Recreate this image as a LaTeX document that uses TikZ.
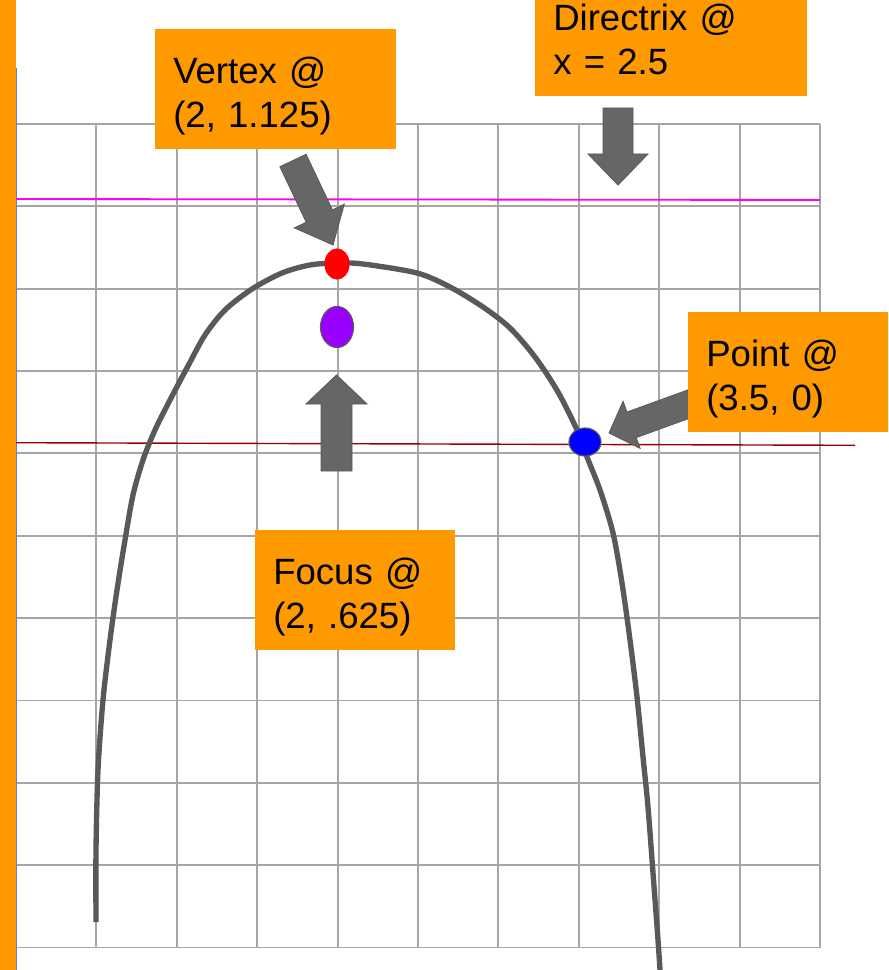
\documentclass[tikz,border=0pt]{standalone}
\usepackage{fontspec}
\setmainfont{Liberation Sans}
\usepackage{xcolor}
\usetikzlibrary{shapes.geometric,calc}

\definecolor{boxorange}{HTML}{FF9900}
\definecolor{gridgray}{HTML}{A6A6A6}
\definecolor{curvegray}{HTML}{595959}
\definecolor{arrowgray}{HTML}{666666}
\definecolor{focuspurple}{HTML}{9900FF}
\definecolor{dirmagenta}{HTML}{FF00FF}
\definecolor{axisred}{HTML}{990000}
\definecolor{edgeblue}{HTML}{4A86E8}

% block arrow: tail, tip, half shaft, half head, head length
\newcommand{\blockarrow}[5]{%
  \coordinate (#2-base) at ($(#2)!#5!(#1)$);
  \draw[blockarr] ($(#1)!#3!90:(#2)$) -- ($(#2-base)!#3!90:(#2)$)
    -- ($(#2-base)!#4!90:(#2)$) -- (#2) -- ($(#2-base)!#4!-90:(#2)$)
    -- ($(#2-base)!#3!-90:(#2)$) -- ($(#1)!#3!-90:(#2)$) -- cycle;
}

\begin{document}
\begin{tikzpicture}[x=0.025cm, y=-0.025cm,
        gridline/.style={draw=gridgray, line width=1.3pt},
        notebox/.style={rectangle, fill=boxorange, anchor=north west, minimum height=3cm,
            inner xsep=0.45cm, inner ysep=0pt, text height=1.35cm, text depth=1.65cm,
            align=left, font=\fontsize{26}{31.3}\selectfont},
        ptdot/.style={ellipse, draw=curvegray, line width=0.8pt, inner sep=0pt},
        blockarr/.style={fill=arrowgray, draw=curvegray, line width=0.6pt}
    ]
        \useasboundingbox (0,0) rectangle (888,970);
        \clip (0,0) rectangle (888,970);

        % Grid
        \foreach \i in {0,...,10} {
            \draw[gridline] ({16+80.4*\i},124) -- ({16+80.4*\i},947.5);
            \draw[gridline] (16,{124+82.35*\i}) -- (820,{124+82.35*\i});
        }

        % Left edge
        \fill[boxorange] (0,0) rectangle (16,970);
        \draw[edgeblue, line width=0.8pt] (16.5,68) -- (16.5,970);

        % Directrix and axis lines
        \draw[dirmagenta, line width=1.3pt] (16,199) -- (820,200);
        \draw[axisred, line width=1pt] (16,442.7) -- (855,445.3);

        % Parabola
        \draw[curvegray, line width=3.8pt] plot[smooth] coordinates {
            (96,922) (96,850) (98,770) (103,700) (110,640) (117,590) (125,540)
            (133,495) (143,460) (155,430) (170,400) (188,366) (205,335) (225,310)
            (252,289) (282,273) (310,265) (337,263) (363,264) (417,273) (450,287)
            (483,307) (510,328) (535,357) (558,392) (577,430) (587,457) (600,490)
            (613,533) (622,583) (630,640) (637,697) (643,757) (648,807) (653,873)
            (658,940) (660,970)};

        % Points
        \node[ptdot, fill=red, draw=red, minimum width=0.6cm, minimum height=0.75cm] (vertex) at (337,264) {};
        \node[ptdot, fill=focuspurple, minimum width=0.825cm, minimum height=1.025cm] (focus) at (337,327) {};
        \node[ptdot, fill=blue, minimum width=0.8cm, minimum height=0.7cm] (point) at (585,442) {};

        % Arrows
        \coordinate (dtail) at (618,108);
        \coordinate (dtip) at (618,185);
        \coordinate (vtail) at (293,160.5);
        \coordinate (vtip) at (333,245);
        \coordinate (ftail) at (336.5,471);
        \coordinate (ftip) at (336.5,375);
        \coordinate (ptail) at (700,400);
        \coordinate (ptip) at (609,433);
        \blockarrow{dtail}{dtip}{0.375cm}{0.75cm}{0.775cm}
        \blockarrow{vtail}{vtip}{0.3625cm}{0.69cm}{0.8cm}
        \blockarrow{ftail}{ftip}{0.3875cm}{0.7625cm}{0.725cm}
        \blockarrow{ptail}{ptip}{0.34cm}{0.625cm}{0.6cm}

        % Labels
        \node[notebox, text width=5.9cm] (directrix) at (535,-24) {Directrix @\\x = 2.5};
        \node[notebox, text width=5.125cm] (vertexlbl) at (155,29) {Vertex @\\(2, 1.125)};
        \node[notebox, text width=4.1cm] (focuslbl) at (255,530) {Focus @\\(2, .625)};
        \node[notebox, text width=5.125cm] (pointlbl) at (688,312) {Point @\\(3.5, 0)};
    \end{tikzpicture}
\end{document}
